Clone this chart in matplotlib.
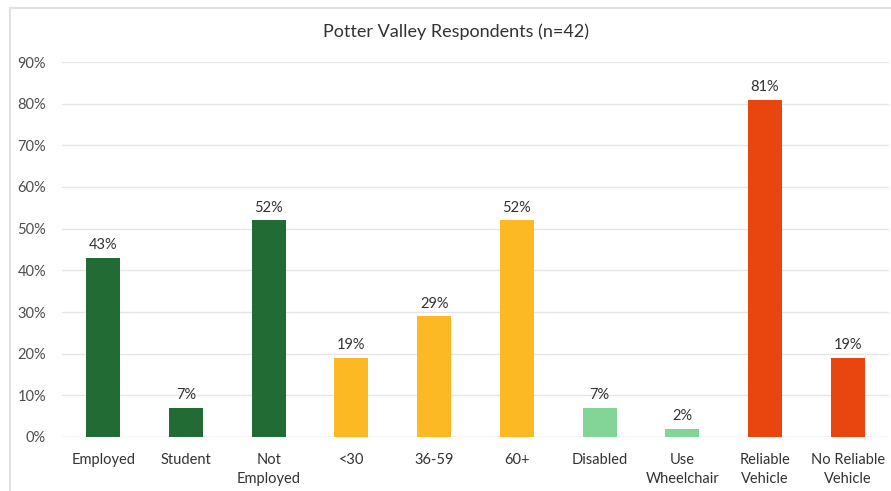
import matplotlib
matplotlib.use("Agg")
import matplotlib.pyplot as plt
from matplotlib.lines import Line2D

categories = ["Employed", "Student", "Not\nEmployed", "<30", "36-59", "60+",
              "Disabled", "Use\nWheelchair", "Reliable\nVehicle", "No Reliable\nVehicle"]
values = [43, 7, 52, 19, 29, 52, 7, 2, 81, 19]
groups = ["employment", "employment", "employment", "age", "age", "age",
          "ability", "ability", "vehicle", "vehicle"]
group_colors = {"employment": "#236B35", "age": "#FDB924",
                "ability": "#82D597", "vehicle": "#E8450F"}
yticks = list(range(0, 91, 10))
title = "Potter Valley Respondents (n=42)"

plt.rcParams["font.family"] = ["Lato", "DejaVu Sans"]

fig = plt.figure(figsize=(8.91, 4.91), dpi=100)
fig.patch.set_facecolor("white")

# faint frame of the chart area
fig.add_artist(Line2D([10 / 891, 1], [1 - 8 / 491, 1 - 8 / 491], transform=fig.transFigure,
                      color="#e2e2e2", lw=1.5))
fig.add_artist(Line2D([10 / 891, 10 / 891], [0, 1 - 8 / 491], transform=fig.transFigure,
                      color="#e2e2e2", lw=1.5))

ax = fig.add_axes([62 / 891, 1 - 437 / 491, (889 - 62) / 891, (437 - 62) / 491])
x = list(range(len(categories)))
colors = [group_colors[g] for g in groups]
bars = ax.bar(x, values, width=0.41, color=colors, zorder=3)

for xi, v in zip(x, values):
    ax.text(xi, v + 1.3, f"{v}%", ha="center", va="bottom", fontsize=10.5, color="#333333")

ax.set_xlim(-0.5, len(categories) - 0.5)
ax.set_ylim(0, 90)
ax.set_yticks(yticks)
ax.set_yticklabels([f"{t}%" for t in yticks], fontsize=10.5, color="#4d4d4d")
ax.set_xticks(x)
ax.set_xticklabels(categories, fontsize=10.5, color="#333333", linespacing=1.45)
ax.tick_params(axis="both", length=0)
ax.tick_params(axis="x", pad=11.5)
ax.tick_params(axis="y", pad=11.5)
ax.grid(axis="y", color="#e6e6e6", lw=1, zorder=0)
for s in ax.spines.values():
    s.set_visible(False)
ax.axhline(0, color="#e0e0e0", lw=1, zorder=2)

fig.text(456 / 891, 1 - 32 / 491, title, ha="center", va="center", fontsize=13, color="#333333")

fig.savefig("out.png", dpi=100, facecolor="white")
